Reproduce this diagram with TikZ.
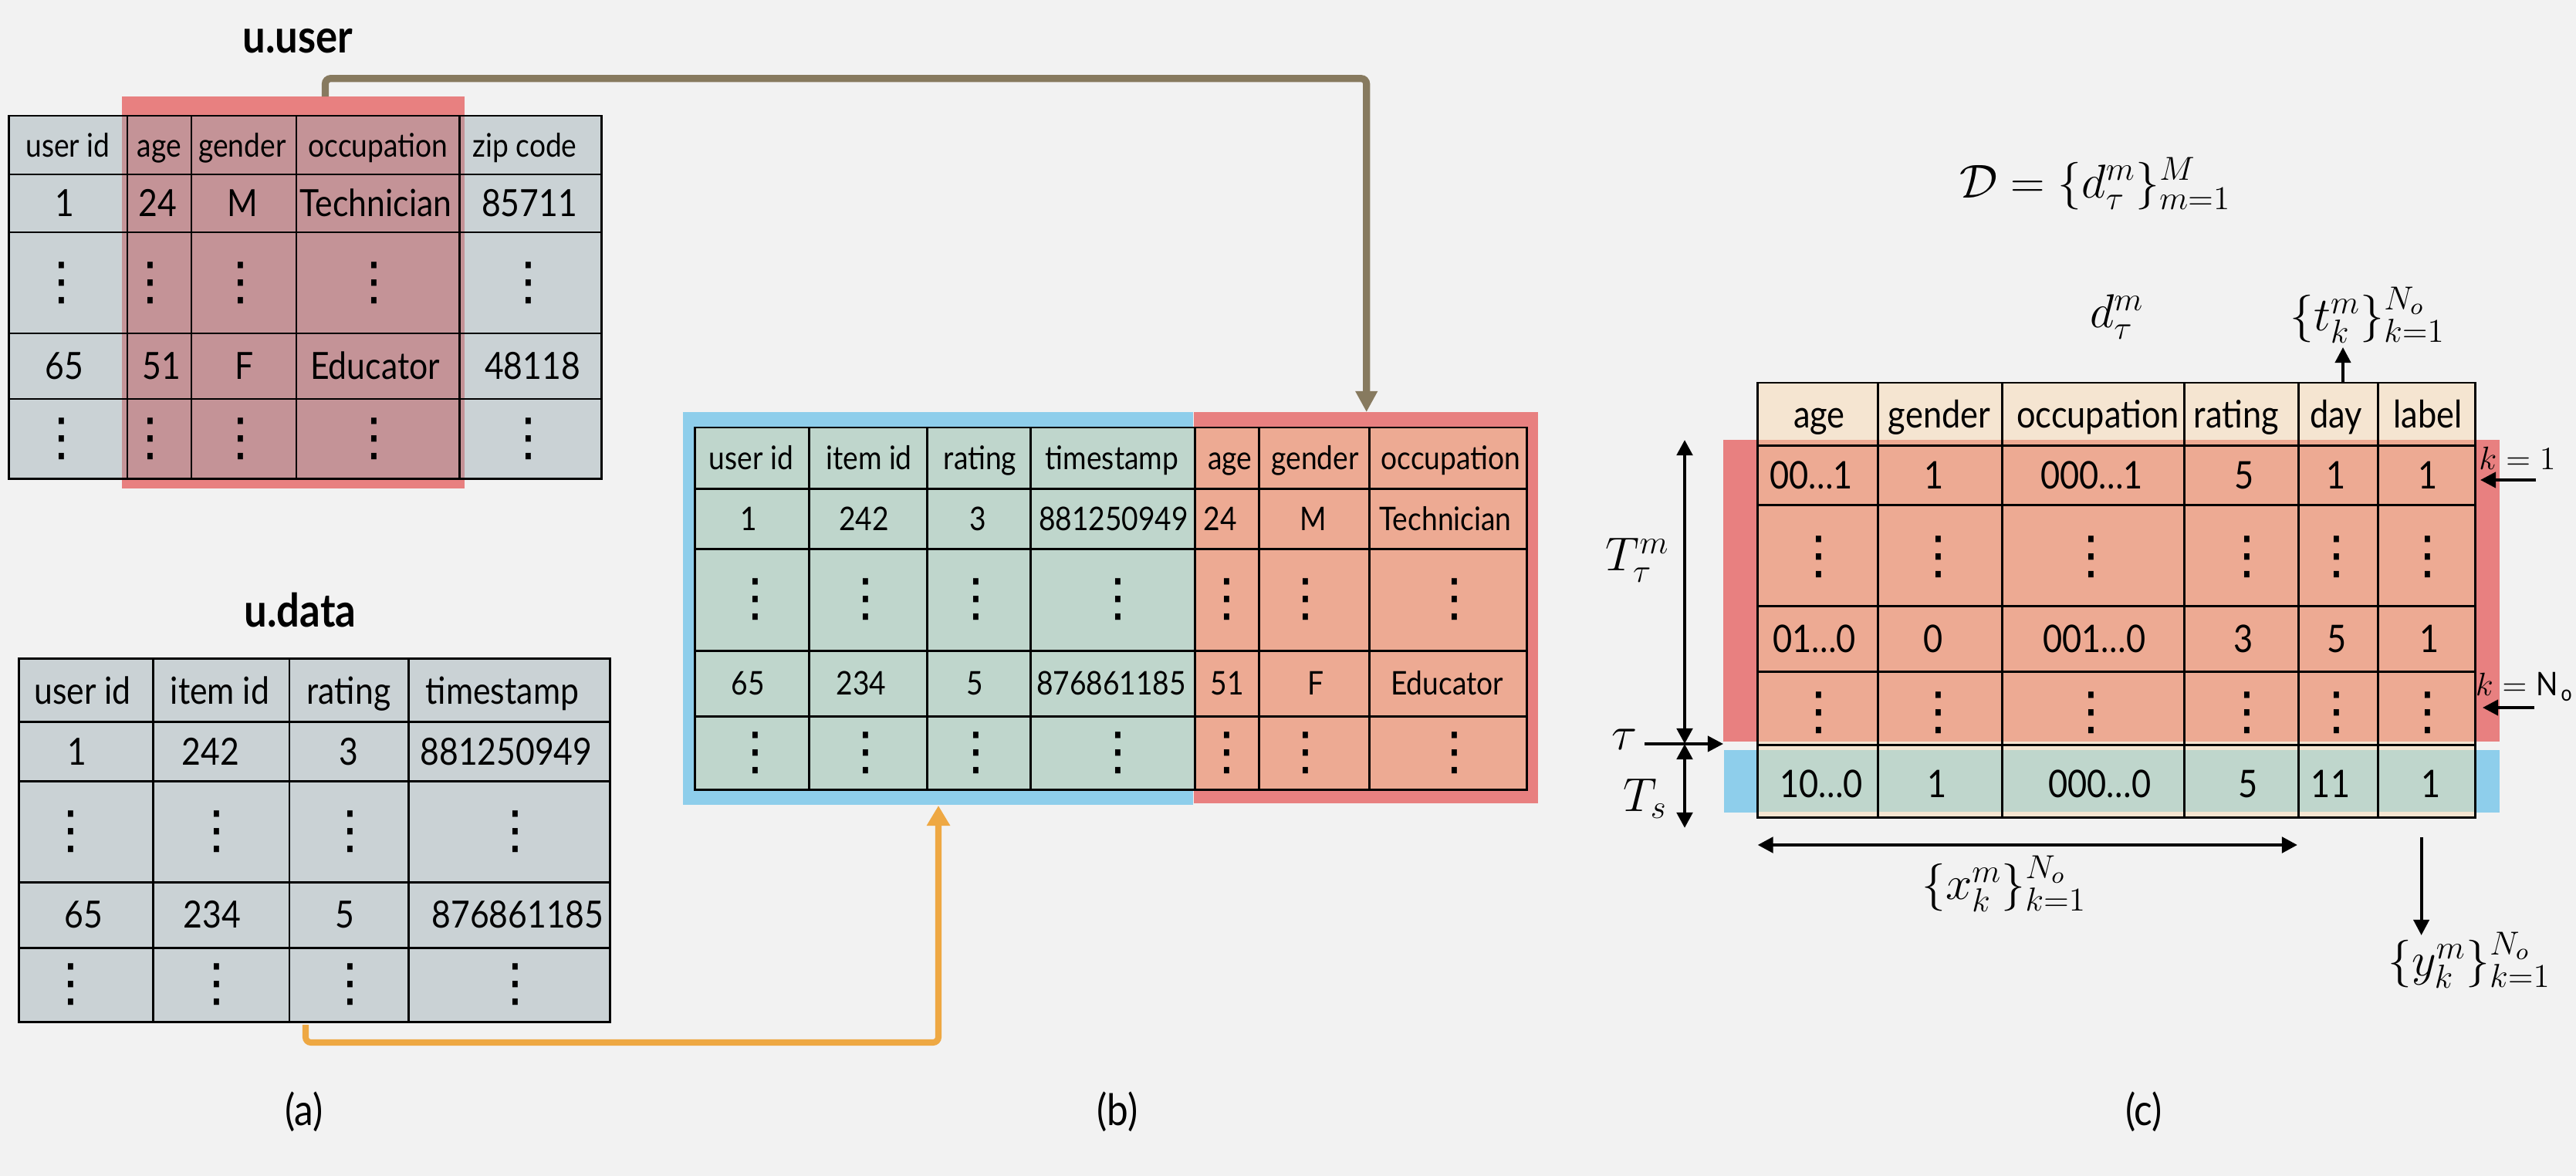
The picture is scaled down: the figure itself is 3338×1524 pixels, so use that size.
\RequirePackage{fix-cm}
\documentclass[tikz,border=0pt]{standalone}
\usepackage{fontspec}
\setmainfont{Lato}[FakeStretch=0.88]
\newfontfamily\djv{DejaVu Sans}
\usetikzlibrary{arrows.meta}
\definecolor{bgc}{HTML}{F2F2F2}
\definecolor{grayc}{HTML}{CAD2D5}
\definecolor{mauve}{HTML}{C49397}
\definecolor{redov}{HTML}{E88080}
\definecolor{greenc}{HTML}{BFD6CC}
\definecolor{bluec}{HTML}{8ECEEB}
\definecolor{salmon}{HTML}{EDAA93}
\definecolor{beige}{HTML}{F5E5D1}
\definecolor{brownc}{HTML}{877A5F}
\definecolor{orangec}{HTML}{EEA843}
\newcommand\vdt{{\djv\fontsize{19}{19}\selectfont ⋮}}
\begin{document}
\begin{tikzpicture}[x=0.01cm,y=-0.01cm,
  gridl/.style={line width=0.85pt,black},
  ctx/.style={inner sep=0pt,text height=9.9pt,text depth=0pt,font=\fontsize{13.8}{15}\selectfont},
  cth/.style={inner sep=0pt,text height=8.6pt,text depth=0pt,font=\fontsize{12}{14}\selectfont},
  ctc/.style={inner sep=0pt,text height=10pt,text depth=0pt,font=\fontsize{14}{16}\selectfont},
  dts/.style={inner sep=0pt},
  ttl/.style={inner sep=0pt,anchor=base,font=\bfseries\fontsize{17}{20}\selectfont},
  lbl/.style={inner sep=0pt,font=\fontsize{16}{18}\selectfont},
  mth/.style={inner sep=0pt,font=\fontsize{17.5}{20}\selectfont},
  mths/.style={inner sep=0pt,font=\fontsize{12}{14}\selectfont},
  arr/.style={-{Triangle[length=5.7pt,width=5.7pt]},line width=1.1pt,black},
  darr/.style={{Triangle[length=5.7pt,width=5.7pt]}-{Triangle[length=5.7pt,width=5.7pt]},line width=1.35pt,black},
  brownarr/.style={-{Triangle[length=7.7pt,width=7.7pt]},line width=2.6pt,brownc,rounded corners=2pt},
  orangearr/.style={-{Triangle[length=7.4pt,width=8.2pt]},line width=2.3pt,orangec,rounded corners=2pt}]
\useasboundingbox (0,0) rectangle (3338,1524);
\fill[bgc] (0,0) rectangle (3338,1524);

% ---------- (a) u.user ----------
\node[ttl] (tUser) at (386,68.4) {u.user};
\fill[grayc] (11.5,150) rectangle (779,620.6);
\fill[redov] (158,125) rectangle (602,633);
\fill[mauve] (158,150) rectangle (602,620.6);
\draw[gridl] (11.5,150) rectangle (779,620.6);
\foreach \x in {165,248,384,595} \draw[gridl] (\x,150) -- (\x,620.6);
\foreach \y in {226,301,432,517} \draw[gridl] (11.5,\y) -- (779,\y);
\foreach \x/\y/\t [count=\i] in {88/188/user id,206.5/188/age,314/188/gender,490/188/occupation,680/188/zip code}
  \node[cth] (Ah\i) at (\x,\y) {\t};
\foreach \x/\y/\t [count=\i] in {84/263.5/1,204/263.5/24,314/263.5/M,487/263.5/Technician,686/263.5/85711,
  83/474.5/65,209/474.5/51,317/474.5/F,486/474.5/Educator,690/474.5/48118}
  \node[ctx] (Ab\i) at (\x,\y) {\t};
\foreach \x [count=\i] in {80,195,312,485,685} {
  \node[dts] (Ad\i) at (\x,366.5) {\vdt};
  \node[dts] (Ae\i) at (\x,569) {\vdt};
}

% ---------- (a) u.data ----------
\node[ttl] (tData) at (389,812) {u.data};
\fill[grayc] (24.6,853.6) rectangle (790,1324);
\draw[gridl] (24.6,853.6) rectangle (790,1324);
\foreach \x in {198.7,375,529.8} \draw[gridl] (\x,853.6) -- (\x,1324);
\foreach \y in {935.8,1012,1143,1228} \draw[gridl] (24.6,\y) -- (790,\y);
\foreach \x/\y/\t [count=\i] in {107/894.7/user id,285/894.7/item id,452/894.7/rating,651/894.7/timestamp,
  100/973.9/1,273/973.9/242,452/973.9/3,656/973.9/881250949,
  108/1185.5/65,275/1185.5/234,447/1185.5/5,671/1185.5/876861185}
  \node[ctx] (Bb\i) at (\x,\y) {\t};
\foreach \x [count=\i] in {91.5,281,454,668} {
  \node[dts] (Bd\i) at (\x,1077.5) {\vdt};
  \node[dts] (Be\i) at (\x,1276) {\vdt};
}

% ---------- (b) merged ----------
\fill[bluec] (885,534) rectangle (1546,1043);
\fill[redov] (1547,534) rectangle (1993,1041);
\fill[greenc] (900,554) rectangle (1548,1023.5);
\fill[salmon] (1548,554) rectangle (1978,1023.5);
\draw[gridl] (900,554) rectangle (1978,1023.5);
\foreach \x in {1048,1201,1335,1548,1631.5,1774.6} \draw[gridl] (\x,554) -- (\x,1023.5);
\foreach \y in {633,711,843,928} \draw[gridl] (900,\y) -- (1978,\y);
\foreach \x/\y/\t [count=\i] in {973.5/593.5/user id,1126/593.5/item id,1270/593.5/rating,1441/593.5/timestamp,1594/593.5/age,1704/593.5/gender,1880/593.5/occupation,
  970/672/1,1119.5/672/242,1267/672/3,1443/672/881250949,1581/672/24,1702/672/M,1873/672/Technician,
  969/885.5/65,1116/885.5/234,1263/885.5/5,1440/885.5/876861185,1590/885.5/51,1705/885.5/F,1875/885.5/Educator}
  \node[cth] (Cb\i) at (\x,\y) {\t};
\foreach \x [count=\i] in {979,1122,1265,1449,1590,1692,1885} {
  \node[dts] (Cd\i) at (\x,777) {\vdt};
  \node[dts] (Ce\i) at (\x,975.75) {\vdt};
}

% ---------- connectors ----------
\coordinate (brS) at (421.5,125);
\coordinate (brE) at (1770.7,534);
\draw[brownarr] (brS) -- ++(0,-23.3) -| (brE);
\coordinate (orS) at (396,1328);
\coordinate (orE) at (1216,1044);
\draw[orangearr] (orS) -- ++(0,23) -| (orE);

% ---------- (c) ----------
\node[mth] (Dset) at (2715,238) {$\mathcal{D}=\{d_\tau^m\}_{m=1}^{M}$};
\node[mth] (dtm) at (2743,411) {$d_\tau^m$};
\node[mth] (tset) at (3068,408) {$\{t_k^m\}_{k=1}^{N_o}$};
\fill[redov] (2233,570) rectangle (3239,961);
\fill[bluec] (2234,972) rectangle (3239,1053);
\fill[beige] (2277,496) rectangle (3207,1059);
\fill[salmon] (2277,570) rectangle (3207,961);
\fill[greenc] (2277,972) rectangle (3207,1052);
\draw[gridl] (2277,496) rectangle (3207,1059);
\foreach \x in {2433,2594,2830,2978,3081} \draw[gridl] (\x,496) -- (\x,1059);
\foreach \y in {577,654,785,870,965} \draw[gridl] (2277,\y) -- (3207,\y);
\foreach \x/\y/\t [count=\i] in {2357.5/536.5/age,2513/536.5/gender,2718.5/536.5/occupation,2898/536.5/rating,3027/536.5/day,3146/536.5/label,
  2347/615.5/00…1,2506/615.5/1,2710.5/615.5/000…1,2907.6/615.5/5,3027/615.5/1,3146/615.5/1,
  2351/828/01…0,2505/828/0,2714/828/001…0,2907/828/3,3028/828/5,3148/828/1,
  2360/1016/10…0,2510.5/1016/1,2721/1016/000…0,2913/1016/5,3020/1016/11,3150/1016/1}
  \node[ctc] (Db\i) at (\x,\y) {\t};
\foreach \x [count=\i] in {2356.6,2512,2710,2911.6,3028,3146} {
  \node[dts] (Dd\i) at (\x,722) {\vdt};
  \node[dts] (De\i) at (\x,924) {\vdt};
}
% labels and arrows of (c)
\node[mth] (Ttau) at (2122,726) {$T_\tau^m$};
\node[mth] (tau) at (2105,958) {$\tau$};
\node[mth] (Ts) at (2132,1035) {$T_s$};
\coordinate (Ttop) at (2183,570);
\coordinate (tauP) at (2183,964);
\coordinate (Tsb) at (2183,1073);
\draw[darr] (Ttop) -- (tauP);
\draw[darr] (tauP) -- (Tsb);
\coordinate (tauL) at (2131,964);
\coordinate (tauR) at (2233,964);
\draw[arr] (tauL) -- (tauR);
\coordinate (xL) at (2277.6,1095);
\coordinate (xR) at (2977,1095);
\draw[darr] (xL) -- (xR);
\node[mth] (xset) at (2597,1145) {$\{x_k^m\}_{k=1}^{N_o}$};
\coordinate (yT) at (3137.6,1085);
\coordinate (yB) at (3137.6,1212);
\draw[arr] (yT) -- (yB);
\node[mth] (yset) at (3200,1244) {$\{y_k^m\}_{k=1}^{N_o}$};
\coordinate (tT) at (3036,496);
\coordinate (tB) at (3036,450);
\draw[arr] (tT) -- (tB);
\node[mths] (k1) at (3262,594) {$k = 1$};
\coordinate (k1s) at (3286,622);
\coordinate (k1e) at (3214,622);
\draw[arr] (k1s) -- (k1e);
\node[mths] (kN) at (3272,890) {$k = \mathrm{N}_{\mathrm{o}}$};
\coordinate (kNs) at (3284,917);
\coordinate (kNe) at (3217,917);
\draw[arr] (kNs) -- (kNe);

% ---------- captions ----------
\node[lbl] (la) at (394,1441) {(a)};
\node[lbl] (lb) at (1448,1441) {(b)};
\node[lbl] (lc) at (2778,1441) {(c)};
\end{tikzpicture}
\end{document}
